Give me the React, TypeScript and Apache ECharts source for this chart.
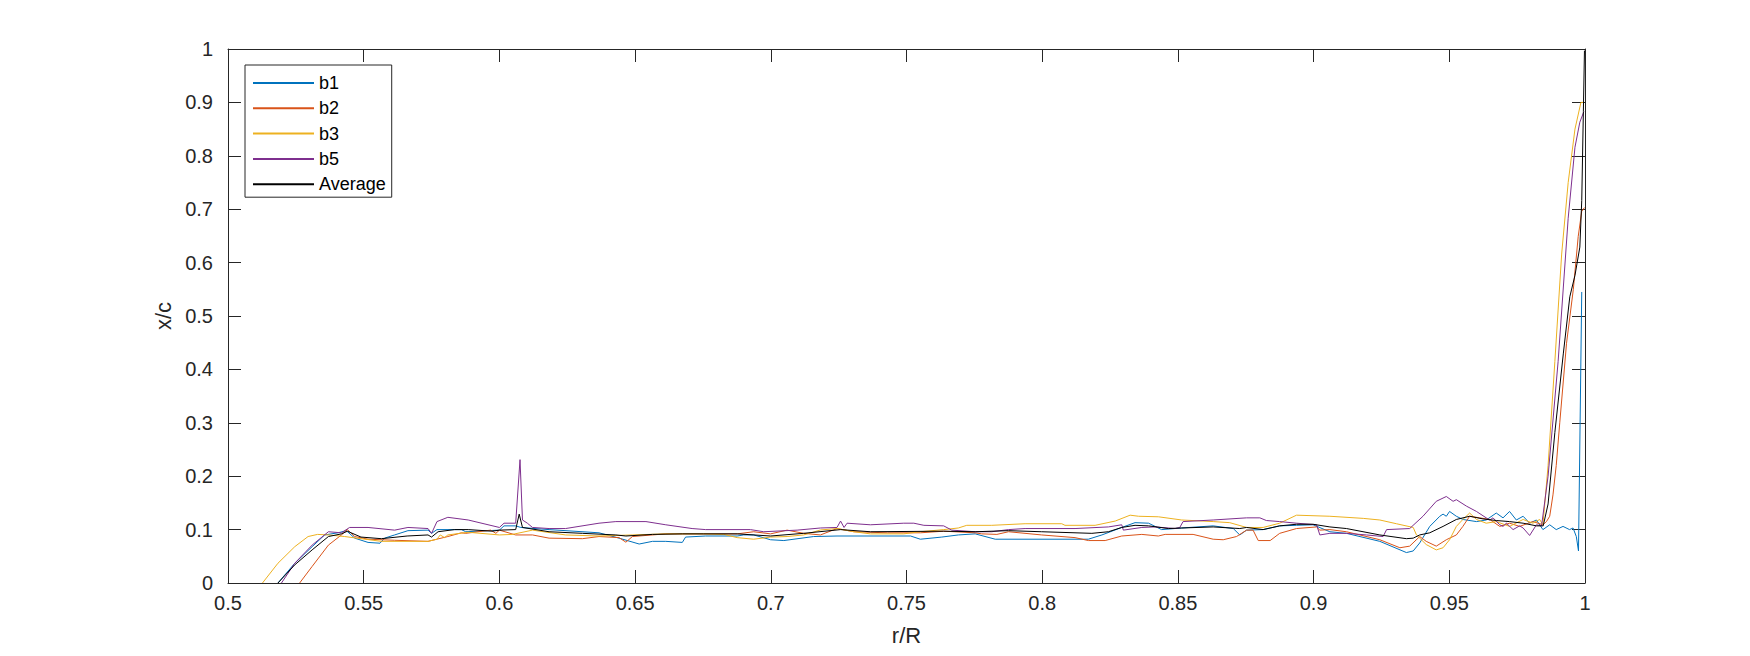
import React, { useEffect, useRef } from "react";
import * as echarts from "echarts";

// r/R (x) and x/c (y) pairs
const b1: [number, number][] = [
  [0.5184, 0], [0.5246, 0.037], [0.531, 0.068], [0.5356, 0.09], [0.5405, 0.094], [0.5436, 0.098],
  [0.5467, 0.084], [0.5516, 0.076], [0.556, 0.0745], [0.5577, 0.084], [0.5614, 0.09], [0.5663, 0.098],
  [0.5737, 0.099], [0.575, 0.093], [0.577, 0.1], [0.586, 0.1], [0.5876, 0.096], [0.6, 0.099],
  [0.6017, 0.107], [0.606, 0.107], [0.6079, 0.104], [0.6183, 0.1], [0.6367, 0.094], [0.6441, 0.084],
  [0.6515, 0.073], [0.6564, 0.078], [0.6613, 0.078], [0.6674, 0.076], [0.6686, 0.086], [0.676, 0.088],
  [0.6876, 0.088], [0.69, 0.09], [0.6937, 0.09], [0.6999, 0.081], [0.7048, 0.0795], [0.7158, 0.087],
  [0.7244, 0.088], [0.7515, 0.088], [0.7551, 0.082], [0.763, 0.086], [0.7691, 0.09], [0.7753, 0.092],
  [0.7827, 0.082], [0.817, 0.082], [0.822, 0.09], [0.8293, 0.104], [0.8342, 0.113], [0.8392, 0.112],
  [0.844, 0.1], [0.8514, 0.103], [0.863, 0.107], [0.8704, 0.102], [0.8728, 0.09], [0.8753, 0.099],
  [0.8814, 0.1], [0.8875, 0.107], [0.8937, 0.108], [0.8998, 0.109], [0.906, 0.096], [0.9121, 0.093],
  [0.9244, 0.078], [0.9342, 0.057], [0.9367, 0.06], [0.9391, 0.075], [0.9428, 0.106], [0.9465, 0.125],
  [0.9477, 0.129], [0.9489, 0.125], [0.9501, 0.134], [0.9526, 0.125], [0.955, 0.119], [0.96, 0.115],
  [0.9636, 0.118], [0.9673, 0.131], [0.9698, 0.122], [0.9722, 0.134], [0.9747, 0.118], [0.9772, 0.125],
  [0.9796, 0.112], [0.9821, 0.118], [0.9845, 0.1], [0.987, 0.109], [0.9894, 0.1], [0.9919, 0.106],
  [0.9943, 0.1], [0.9956, 0.103], [0.9968, 0.087], [0.9976, 0.06], [0.9988, 0.545],
];

const b2: [number, number][] = [
  [0.5264, 0], [0.531, 0.031], [0.537, 0.071], [0.5418, 0.09], [0.544, 0.1], [0.5467, 0.087],
  [0.5516, 0.082], [0.5614, 0.08], [0.5737, 0.078], [0.581, 0.087], [0.586, 0.094], [0.5876, 0.093],
  [0.5968, 0.099], [0.5987, 0.093], [0.6, 0.099], [0.606, 0.09], [0.6122, 0.09], [0.6183, 0.084],
  [0.6306, 0.083], [0.6367, 0.087], [0.6441, 0.085], [0.6466, 0.0764], [0.649, 0.087], [0.6613, 0.092],
  [0.6736, 0.092], [0.6876, 0.092], [0.6937, 0.096], [0.6999, 0.092], [0.706, 0.099], [0.7121, 0.093],
  [0.7183, 0.09], [0.7244, 0.102], [0.7306, 0.096], [0.7429, 0.094], [0.7551, 0.094], [0.7637, 0.097],
  [0.7753, 0.094], [0.7777, 0.092], [0.7833, 0.091], [0.7876, 0.096], [0.7998, 0.09], [0.8121, 0.085],
  [0.817, 0.0795], [0.8232, 0.0795], [0.8293, 0.088], [0.8367, 0.091], [0.8428, 0.088], [0.8453, 0.091],
  [0.8556, 0.091], [0.863, 0.082], [0.8667, 0.081], [0.8716, 0.087], [0.8753, 0.099], [0.8777, 0.099],
  [0.8796, 0.0795], [0.884, 0.0795], [0.8875, 0.093], [0.8937, 0.102], [0.9011, 0.105], [0.9023, 0.099],
  [0.906, 0.1], [0.9121, 0.096], [0.9244, 0.081], [0.9318, 0.066], [0.9354, 0.069], [0.9391, 0.087],
  [0.9415, 0.078], [0.9452, 0.069], [0.9489, 0.081], [0.9526, 0.09], [0.955, 0.106], [0.9575, 0.125],
  [0.9612, 0.122], [0.9649, 0.119], [0.9686, 0.106], [0.9722, 0.112], [0.9759, 0.106], [0.9808, 0.115],
  [0.9845, 0.109], [0.9858, 0.115], [0.987, 0.125], [0.9882, 0.165], [0.9894, 0.22], [0.9907, 0.3],
  [0.9932, 0.449], [0.9957, 0.55], [0.9975, 0.649], [0.9988, 0.696], [0.9998, 0.703],
];

const b3: [number, number][] = [
  [0.5127, 0], [0.5184, 0.037], [0.5246, 0.068], [0.5295, 0.087], [0.533, 0.091], [0.537, 0.09],
  [0.543, 0.087], [0.549, 0.083], [0.5565, 0.078], [0.5737, 0.078], [0.577, 0.082], [0.5782, 0.09],
  [0.5798, 0.085], [0.581, 0.09], [0.5885, 0.095], [0.6, 0.09], [0.6048, 0.091], [0.6122, 0.099],
  [0.6244, 0.09], [0.6367, 0.088], [0.649, 0.09], [0.6613, 0.092], [0.6753, 0.092], [0.6827, 0.091],
  [0.6876, 0.085], [0.6937, 0.082], [0.6999, 0.086], [0.706, 0.087], [0.7121, 0.09], [0.7183, 0.0993],
  [0.7244, 0.102], [0.7306, 0.096], [0.7367, 0.092], [0.749, 0.092], [0.7551, 0.096], [0.7637, 0.1],
  [0.7691, 0.103], [0.7722, 0.108], [0.7814, 0.108], [0.7937, 0.111], [0.8072, 0.111], [0.8084, 0.108],
  [0.8195, 0.108], [0.8269, 0.116], [0.8324, 0.127], [0.8355, 0.125], [0.8428, 0.124], [0.8514, 0.118],
  [0.863, 0.115], [0.8691, 0.113], [0.8753, 0.104], [0.8814, 0.104], [0.8875, 0.112], [0.8937, 0.127],
  [0.906, 0.125], [0.9183, 0.121], [0.9244, 0.118], [0.9305, 0.111], [0.9367, 0.104], [0.9379, 0.09],
  [0.9415, 0.072], [0.9452, 0.062], [0.9477, 0.066], [0.9501, 0.081], [0.9526, 0.106], [0.955, 0.119],
  [0.9575, 0.131], [0.96, 0.119], [0.9636, 0.112], [0.9673, 0.115], [0.9722, 0.106], [0.9772, 0.119],
  [0.9808, 0.112], [0.9833, 0.119], [0.9845, 0.109], [0.9864, 0.22], [0.9889, 0.415], [0.9914, 0.616],
  [0.9938, 0.75], [0.9963, 0.85], [0.9985, 0.9], [0.9994, 0.9],
];

const b5: [number, number][] = [
  [0.5197, 0], [0.5246, 0.037], [0.531, 0.071], [0.537, 0.096], [0.5418, 0.094], [0.5448, 0.104],
  [0.5516, 0.104], [0.5614, 0.099], [0.5663, 0.104], [0.5737, 0.102], [0.575, 0.093], [0.577, 0.115],
  [0.581, 0.123], [0.5885, 0.118], [0.6, 0.104], [0.6017, 0.112], [0.606, 0.112], [0.6076, 0.231],
  [0.6085, 0.118], [0.6103, 0.112], [0.6122, 0.104], [0.6183, 0.102], [0.6244, 0.102], [0.6367, 0.112],
  [0.6429, 0.115], [0.654, 0.115], [0.6613, 0.109], [0.671, 0.102], [0.676, 0.1], [0.6925, 0.1],
  [0.6974, 0.096], [0.7097, 0.099], [0.7183, 0.103], [0.7244, 0.104], [0.7257, 0.116], [0.727, 0.104],
  [0.7281, 0.112], [0.7367, 0.109], [0.749, 0.112], [0.7527, 0.112], [0.7564, 0.108], [0.7637, 0.107],
  [0.7667, 0.099], [0.7753, 0.096], [0.7814, 0.096], [0.7876, 0.1], [0.7937, 0.102], [0.8121, 0.102],
  [0.8244, 0.105], [0.8293, 0.109], [0.8299, 0.099], [0.8367, 0.104], [0.8416, 0.105], [0.849, 0.102],
  [0.8507, 0.104], [0.8519, 0.115], [0.863, 0.118], [0.8753, 0.122], [0.8802, 0.122], [0.8826, 0.117],
  [0.8875, 0.115], [0.8937, 0.112], [0.9011, 0.109], [0.9023, 0.09], [0.906, 0.093], [0.9121, 0.093],
  [0.9195, 0.09], [0.9256, 0.087], [0.9269, 0.1], [0.9354, 0.102], [0.9403, 0.125], [0.9452, 0.153],
  [0.9489, 0.162], [0.9514, 0.153], [0.9526, 0.156], [0.9563, 0.144], [0.96, 0.134], [0.9636, 0.122],
  [0.9649, 0.118], [0.9661, 0.122], [0.9686, 0.109], [0.9698, 0.106], [0.971, 0.112], [0.9735, 0.1],
  [0.9759, 0.107], [0.9772, 0.103], [0.9796, 0.089], [0.9821, 0.109], [0.984, 0.107], [0.9864, 0.2],
  [0.9901, 0.415], [0.9938, 0.683], [0.9963, 0.816], [0.9981, 0.863], [0.9996, 0.883],
];

const average: [number, number][] = [
  [0.5184, 0], [0.5246, 0.034], [0.531, 0.062], [0.537, 0.087], [0.5418, 0.092], [0.544, 0.097],
  [0.549, 0.086], [0.5565, 0.083], [0.566, 0.088], [0.5737, 0.09], [0.575, 0.086], [0.5774, 0.096],
  [0.5835, 0.1], [0.5885, 0.1], [0.5974, 0.097], [0.6, 0.099], [0.606, 0.1], [0.6073, 0.129],
  [0.6085, 0.104], [0.6183, 0.096], [0.6306, 0.093], [0.6429, 0.09], [0.6466, 0.088], [0.6564, 0.091],
  [0.6674, 0.092], [0.6753, 0.092], [0.6876, 0.092], [0.6999, 0.088], [0.7121, 0.093], [0.7257, 0.1],
  [0.7367, 0.096], [0.7637, 0.097], [0.7753, 0.096], [0.7876, 0.098], [0.7998, 0.096], [0.8183, 0.093],
  [0.8244, 0.096], [0.8293, 0.104], [0.8342, 0.108], [0.8392, 0.107], [0.8465, 0.102], [0.8514, 0.103],
  [0.863, 0.105], [0.8728, 0.102], [0.8753, 0.104], [0.8814, 0.1], [0.8875, 0.107], [0.8937, 0.11],
  [0.8998, 0.11], [0.906, 0.105], [0.9121, 0.102], [0.9244, 0.09], [0.9342, 0.083], [0.9367, 0.084],
  [0.9391, 0.09], [0.9428, 0.094], [0.9477, 0.106], [0.9526, 0.119], [0.9575, 0.125], [0.9624, 0.12],
  [0.9673, 0.117], [0.9722, 0.115], [0.9772, 0.112], [0.9821, 0.107], [0.9846, 0.107], [0.9864, 0.148],
  [0.9889, 0.282], [0.992, 0.429], [0.9944, 0.536], [0.9963, 0.576], [0.9981, 0.629], [0.9988, 0.716],
  [0.9994, 0.883], [0.9998, 0.997],
];

const seriesNames = ["b1", "b2", "b3", "b5", "Average"];
const seriesData = [b1, b2, b3, b5, average];
const seriesColors = ["#0072BD", "#D95319", "#EDB120", "#7E2F8E", "#000000"];

const xLabel = "r/R";
const yLabel = "x/c";

const FONT = "'Liberation Sans', Arial, Helvetica, sans-serif";
const AXIS_COLOR = "#262626";

export default function App() {
  const ref = useRef<HTMLDivElement>(null);

  useEffect(() => {
    if (!ref.current) return;
    const chart = echarts.init(ref.current, null, { renderer: "svg" });

    const fmt = (v: number) => String(Math.round(v * 100) / 100);

    const axisCommon = {
      type: "value" as const,
      axisLine: { show: true, onZero: false, lineStyle: { color: AXIS_COLOR, width: 1 } },
      axisTick: { show: true, inside: true, length: 13, lineStyle: { color: AXIS_COLOR, width: 1 } },
      splitLine: { show: false },
    };

    chart.setOption({
      animation: false,
      backgroundColor: "#ffffff",
      grid: { left: 228, top: 49, width: 1357, height: 534, containLabel: false },
      xAxis: [
        {
          ...axisCommon,
          position: "bottom",
          min: 0.5,
          max: 1,
          interval: 0.05,
          name: xLabel,
          nameLocation: "middle",
          nameGap: 41,
          nameTextStyle: { fontFamily: FONT, fontSize: 22, color: AXIS_COLOR },
          axisLabel: { show: true, margin: 10, fontFamily: FONT, fontSize: 20, color: AXIS_COLOR, formatter: fmt },
        },
        {
          ...axisCommon,
          position: "top",
          min: 0.5,
          max: 1,
          interval: 0.05,
          axisLabel: { show: false },
        },
      ],
      yAxis: [
        {
          ...axisCommon,
          position: "left",
          min: 0,
          max: 1,
          interval: 0.1,
          name: yLabel,
          nameLocation: "middle",
          nameGap: 50,
          nameTextStyle: { fontFamily: FONT, fontSize: 22, color: AXIS_COLOR },
          axisLabel: { show: true, margin: 15, fontFamily: FONT, fontSize: 20, color: AXIS_COLOR, formatter: fmt },
        },
        {
          ...axisCommon,
          position: "right",
          min: 0,
          max: 1,
          interval: 0.1,
          axisLabel: { show: false },
        },
      ],
      legend: {
        show: true,
        orient: "vertical",
        left: 245,
        top: 65,
        data: seriesNames,
        backgroundColor: "#ffffff",
        borderColor: AXIS_COLOR,
        borderWidth: 1,
        padding: [9, 6, 4, 7],
        itemWidth: 61,
        itemHeight: 14,
        itemGap: 7.3,
        itemStyle: { opacity: 0 },
        textStyle: { fontFamily: FONT, fontSize: 18, color: "#000000" },
      },
      series: seriesData.map((d, i) => ({
        type: "line",
        name: seriesNames[i],
        data: d,
        xAxisIndex: 0,
        yAxisIndex: 0,
        symbol: "none",
        showSymbol: false,
        clip: true,
        lineStyle: { color: seriesColors[i], width: 1 },
        itemStyle: { color: seriesColors[i] },
        z: 2 + i,
      })),
    });

    return () => chart.dispose();
  }, []);

  return (
    <div
      ref={ref}
      style={{ position: "fixed", left: 0, top: 0, width: 1750, height: 656, background: "#fff" }}
    />
  );
}
